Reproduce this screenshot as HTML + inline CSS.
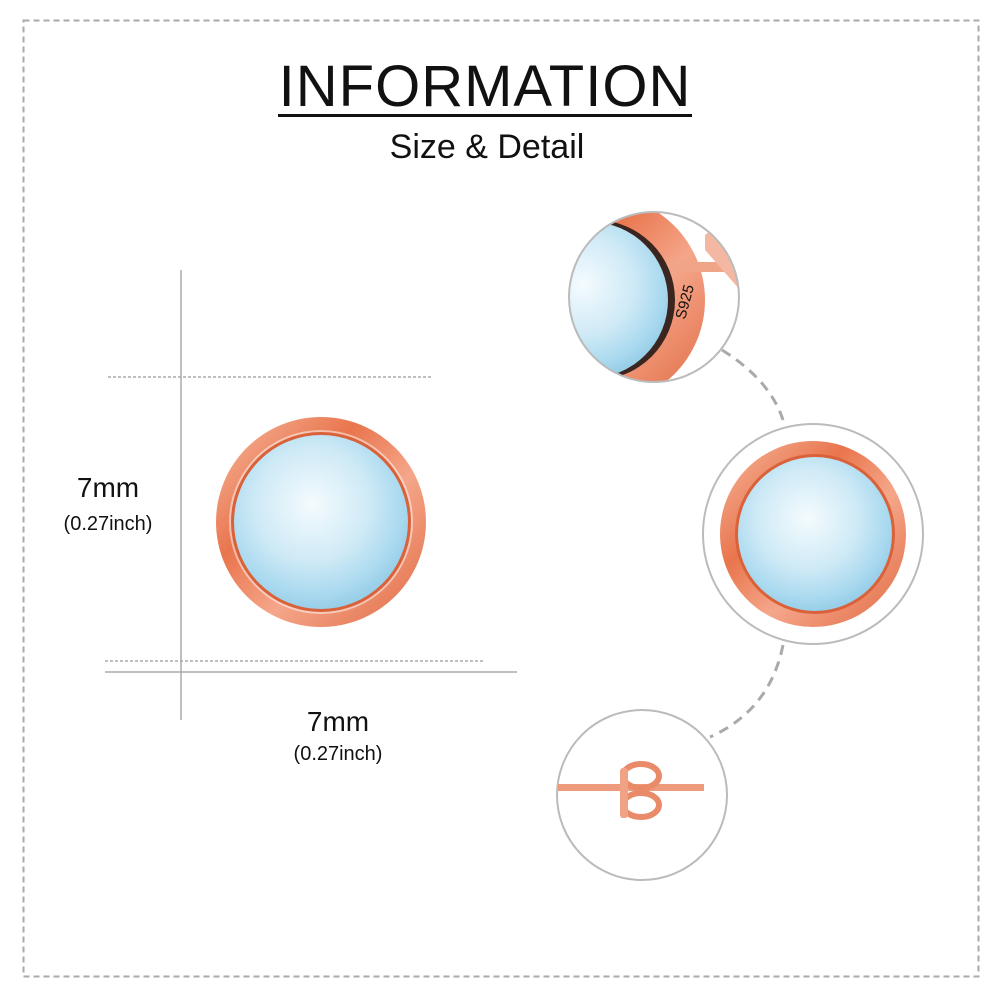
<!DOCTYPE html>
<html><head><style>
body{margin:0;background:#fff;}
svg{display:block}
text{font-family:"Liberation Sans",sans-serif;fill:#111}
</style></head><body>
<svg width="1000" height="1000" viewBox="0 0 1000 1000">
<defs>
<radialGradient id="stone" cx="45%" cy="40%" r="65%">
<stop offset="0" stop-color="#f4fbfe"/><stop offset="0.5" stop-color="#cfeaf6"/><stop offset="0.8" stop-color="#a9d9ef"/><stop offset="1" stop-color="#8ec8e4"/></radialGradient>
<linearGradient id="gold" x1="0" y1="0" x2="1" y2="1">
<stop offset="0" stop-color="#f6b9a0"/><stop offset="0.35" stop-color="#e9754d"/><stop offset="0.6" stop-color="#f5a68a"/><stop offset="1" stop-color="#e06a42"/></linearGradient>
</defs>
<rect x="23.5" y="20.5" width="955" height="956" fill="none" stroke="#aaa" stroke-width="2" stroke-dasharray="6,4"/>
<text x="485" y="106" font-size="58" text-anchor="middle" letter-spacing="1">INFORMATION</text>
<rect x="278" y="114" width="414" height="3" fill="#111"/>
<text x="487" y="158" font-size="34" text-anchor="middle">Size &amp; Detail</text>
<!-- measure lines -->
<line x1="181" y1="270" x2="181" y2="720" stroke="#aaa" stroke-width="1.5"/>
<line x1="108" y1="377" x2="432" y2="377" stroke="#aaa" stroke-width="1.5" stroke-dasharray="3,2"/>
<line x1="105" y1="661" x2="485" y2="661" stroke="#aaa" stroke-width="1.5" stroke-dasharray="3,2"/>
<line x1="105" y1="672" x2="517" y2="672" stroke="#aaa" stroke-width="1.5"/>
<text x="108" y="497" font-size="28" text-anchor="middle">7mm</text>
<text x="108" y="530" font-size="20" text-anchor="middle">(0.27inch)</text>
<text x="338" y="731" font-size="28" text-anchor="middle">7mm</text>
<text x="338" y="760" font-size="20" text-anchor="middle">(0.27inch)</text>
<!-- left earring -->
<circle cx="321" cy="522" r="105" fill="url(#gold)"/>
<circle cx="321" cy="522" r="92" fill="#fff" opacity="0.5"/>
<circle cx="321" cy="522" r="90" fill="#d9623a"/>
<circle cx="321" cy="522" r="87" fill="url(#stone)"/>
<!-- connectors -->
<path d="M722 350 Q770 380 783 420" fill="none" stroke="#aaa" stroke-width="3" stroke-dasharray="10,7"/>
<path d="M783 645 Q770 710 710 737" fill="none" stroke="#aaa" stroke-width="3" stroke-dasharray="10,7"/>
<!-- top circle -->
<clipPath id="c1"><circle cx="654" cy="297" r="85"/></clipPath>
<g clip-path="url(#c1)">
<circle cx="600" cy="300" r="105" fill="url(#gold)"/>
<circle cx="595" cy="300" r="80" fill="#3a2520"/>
<circle cx="590" cy="300" r="78" fill="url(#stone)"/>
<rect x="670" y="262" width="80" height="10" fill="#f0a488"/>
<path d="M705 235 L730 215 L740 290 L705 250Z" fill="#f4b8a2"/>
<text x="685" y="320" font-size="15" transform="rotate(-75 685 320)">S925</text>
</g>
<circle cx="654" cy="297" r="85" fill="none" stroke="#bbb" stroke-width="2"/>
<!-- middle circle -->
<circle cx="813" cy="534" r="110" fill="none" stroke="#bbb" stroke-width="2"/>
<circle cx="813" cy="534" r="93" fill="url(#gold)"/>
<circle cx="815" cy="534" r="80" fill="#d9623a"/>
<circle cx="815" cy="534" r="77" fill="url(#stone)"/>
<!-- bottom circle -->
<circle cx="642" cy="795" r="85" fill="none" stroke="#bbb" stroke-width="2"/>
<rect x="558" y="784" width="146" height="7" fill="#ee9a7c"/>
<ellipse cx="641" cy="776" rx="18" ry="12" fill="none" stroke="#e98a68" stroke-width="6"/>
<ellipse cx="641" cy="805" rx="18" ry="12" fill="none" stroke="#e98a68" stroke-width="6"/>
<rect x="620" y="768" width="8" height="50" rx="3" fill="#f0a284"/>
</svg>
</body></html>
